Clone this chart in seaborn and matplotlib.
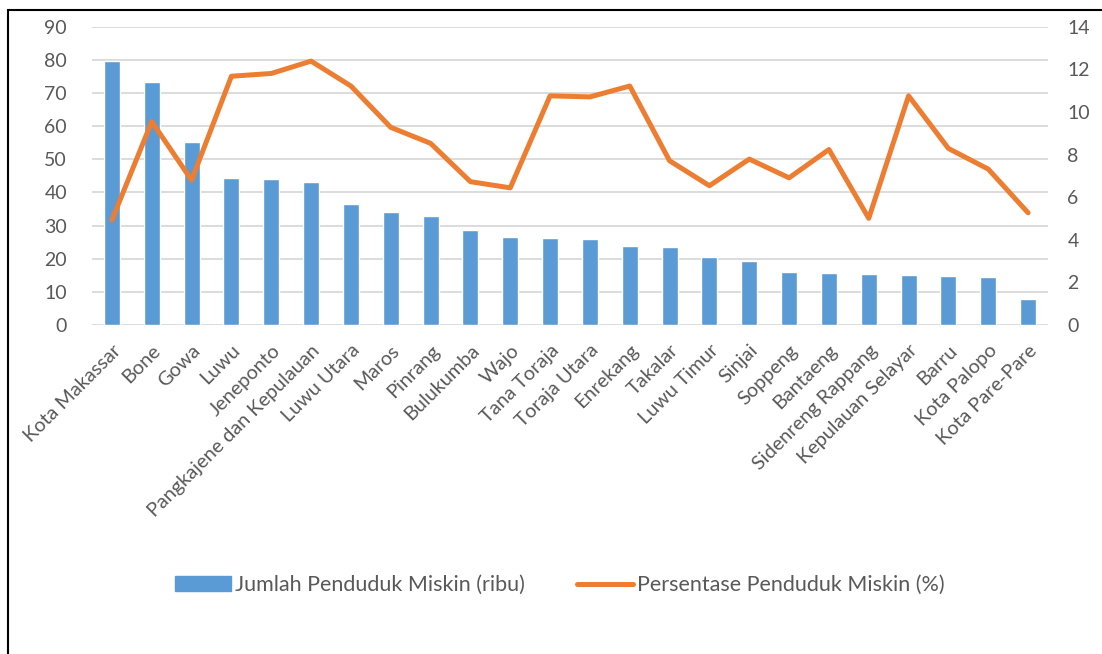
import numpy as np
import pandas as pd
import matplotlib
matplotlib.use("Agg")
import matplotlib.pyplot as plt
import seaborn as sns
from matplotlib.patches import Rectangle, Patch
from matplotlib.lines import Line2D

categories = ["Kota Makassar", "Bone", "Gowa", "Luwu", "Jeneponto",
              "Pangkajene dan Kepulauan", "Luwu Utara", "Maros", "Pinrang",
              "Bulukumba", "Wajo", "Tana Toraja", "Toraja Utara", "Enrekang",
              "Takalar", "Luwu Timur", "Sinjai", "Soppeng", "Bantaeng",
              "Sidenreng Rappang", "Kepulauan Selayar", "Barru", "Kota Palopo",
              "Kota Pare-Pare"]
jumlah = [79.6, 73.2, 55.1, 44.4, 44.0, 43.1, 36.5, 34.0, 33.0, 28.6, 26.5,
          26.2, 25.9, 24.0, 23.5, 20.6, 19.3, 16.0, 15.8, 15.5, 15.0, 14.7,
          14.4, 7.9]
persen = [4.93, 9.55, 6.80, 11.68, 11.81, 12.39, 11.22, 9.28, 8.53, 6.73,
          6.44, 10.76, 10.71, 11.22, 7.71, 6.54, 7.79, 6.91, 8.24, 5.01,
          10.76, 8.29, 7.32, 5.27]
label_bar = "Jumlah Penduduk Miskin (ribu)"
label_line = "Persentase Penduduk Miskin (%)"

BLUE = "#5B9BD5"
ORANGE = "#ED7D31"
GRAY = "#595959"
GRID = "#D9D9D9"

sns.set_theme(style="white")
plt.rcParams['font.family'] = ['Lato', 'DejaVu Sans']

df = pd.DataFrame({"cat": categories, "jumlah": jumlah, "persen": persen,
                   "pos": np.arange(len(categories))})

fig = plt.figure(figsize=(11.02, 6.54), dpi=100)
ax = fig.add_axes([0.0835, 0.503, 0.8675, 0.456])

sns.barplot(data=df, x="cat", y="jumlah", color=BLUE, width=0.4,
            saturation=1, ax=ax, zorder=3)
ax.set_ylim(0, 90)
ax.set_yticks(np.arange(0, 91, 10))
ax.set_xlim(-0.5, len(categories) - 0.5)
ax.set_xlabel("")
ax.set_ylabel("")
ax.yaxis.grid(True, color=GRID, linewidth=1.3, zorder=0)
ax.set_axisbelow(True)
for s in ax.spines.values():
    s.set_visible(False)
ax.tick_params(axis="y", length=0, labelsize=14, labelcolor=GRAY, pad=18)
ax.tick_params(axis="x", length=0, labelsize=14.3, labelcolor=GRAY, pad=12)
for lab in ax.get_xticklabels():
    lab.set_rotation(45)
    lab.set_ha("right")
    lab.set_rotation_mode("anchor")

ax2 = ax.twinx()
sns.lineplot(data=df, x="pos", y="persen", color=ORANGE, linewidth=3.6,
             ax=ax2, zorder=4)
ax2.set_ylim(0, 14)
ax2.set_yticks(np.arange(0, 15, 2))
ax2.set_xlim(-0.5, len(categories) - 0.5)
ax2.set_xlabel("")
ax2.set_ylabel("")
for s in ax2.spines.values():
    s.set_visible(False)
ax2.tick_params(axis="y", length=0, labelsize=14, labelcolor=GRAY, pad=14)
ax2.grid(False)

handles = [Patch(facecolor=BLUE, edgecolor=BLUE),
           Line2D([0], [0], color=ORANGE, linewidth=3.6)]
fig.legend(handles, [label_bar, label_line], loc="center",
           bbox_to_anchor=(0.508, 0.105), ncol=2, frameon=False,
           fontsize=15.5, labelcolor=GRAY, handlelength=2.6, handletextpad=0.2,
           columnspacing=2.4)

fig.patches.append(Rectangle((8 / 1102, -0.1), 1.2, 0.1 + 1 - 10 / 654,
                             transform=fig.transFigure, fill=False,
                             edgecolor="black", linewidth=1.5))

fig.savefig("out.png", dpi=100)
